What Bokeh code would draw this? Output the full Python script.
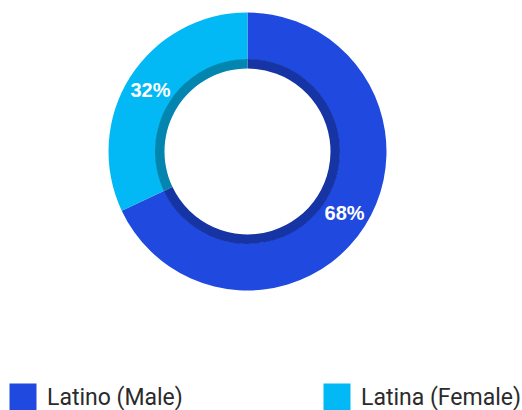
import math
from bokeh.plotting import figure
from bokeh.models import Range1d, ColumnDataSource
from bokeh.core.properties import value
from bokeh.embed import file_html
from bokeh.resources import INLINE

categories = ["Latino (Male)", "Latina (Female)"]
shares = [68, 32]
colors = ["#2049E0", "#02B9F5"]
inner_colors = ["#1634A3", "#0285AE"]

W, H = 522, 410
p = figure(width=W, height=H, output_backend="svg", toolbar_location=None,
           x_range=Range1d(0, W), y_range=Range1d(0, H), min_border=0)
p.axis.visible = False
p.grid.visible = False
p.outline_line_color = None
p.background_fill_color = "white"
p.border_fill_color = "white"

cx, cy = 247, H - 151
total = sum(shares)
starts, ends, mids = [], [], []
a = math.pi / 2
for s in shares:
    span = 2 * math.pi * s / total
    starts.append(a)
    ends.append(a - span)
    mids.append(a - span / 2)
    a -= span

src = ColumnDataSource(dict(start=starts, end=ends, color=colors, inner=inner_colors,
                            x=[cx] * 2, y=[cy] * 2))
p.annular_wedge(x="x", y="y", inner_radius=92, outer_radius=139,
                inner_radius_units="screen", outer_radius_units="screen",
                start_angle="start", end_angle="end", direction="clock",
                fill_color="color", line_color=None, source=src)
p.annular_wedge(x="x", y="y", inner_radius=83, outer_radius=92.5,
                inner_radius_units="screen", outer_radius_units="screen",
                start_angle="start", end_angle="end", direction="clock",
                fill_color="inner", line_color=None, source=src)

r_lab = 115
lx = [cx + r_lab * math.cos(m) for m in mids]
ly = [cy + r_lab * math.sin(m) for m in mids]
labels = [f"{s}%" for s in shares]
p.text(x=lx, y=ly, text=labels, text_color="white", text_font=value("Liberation Sans"),
       text_font_style="bold", text_font_size="20px", text_align="center",
       text_baseline="middle")

# legend
leg_x = [22.5, 336.5]
leg_y = [H - 396.5, H - 396.5]
p.rect(x=leg_x, y=leg_y, width=27, height=27, width_units="screen", height_units="screen",
       fill_color=colors, line_color=None)
p.text(x=[x + 24 for x in leg_x], y=leg_y, text=categories, text_color="#2b2b2b",
       text_font=value("Roboto"), text_font_size="23px", text_align="left",
       text_baseline="middle")

open("out.html", "w").write(file_html(p, INLINE))
